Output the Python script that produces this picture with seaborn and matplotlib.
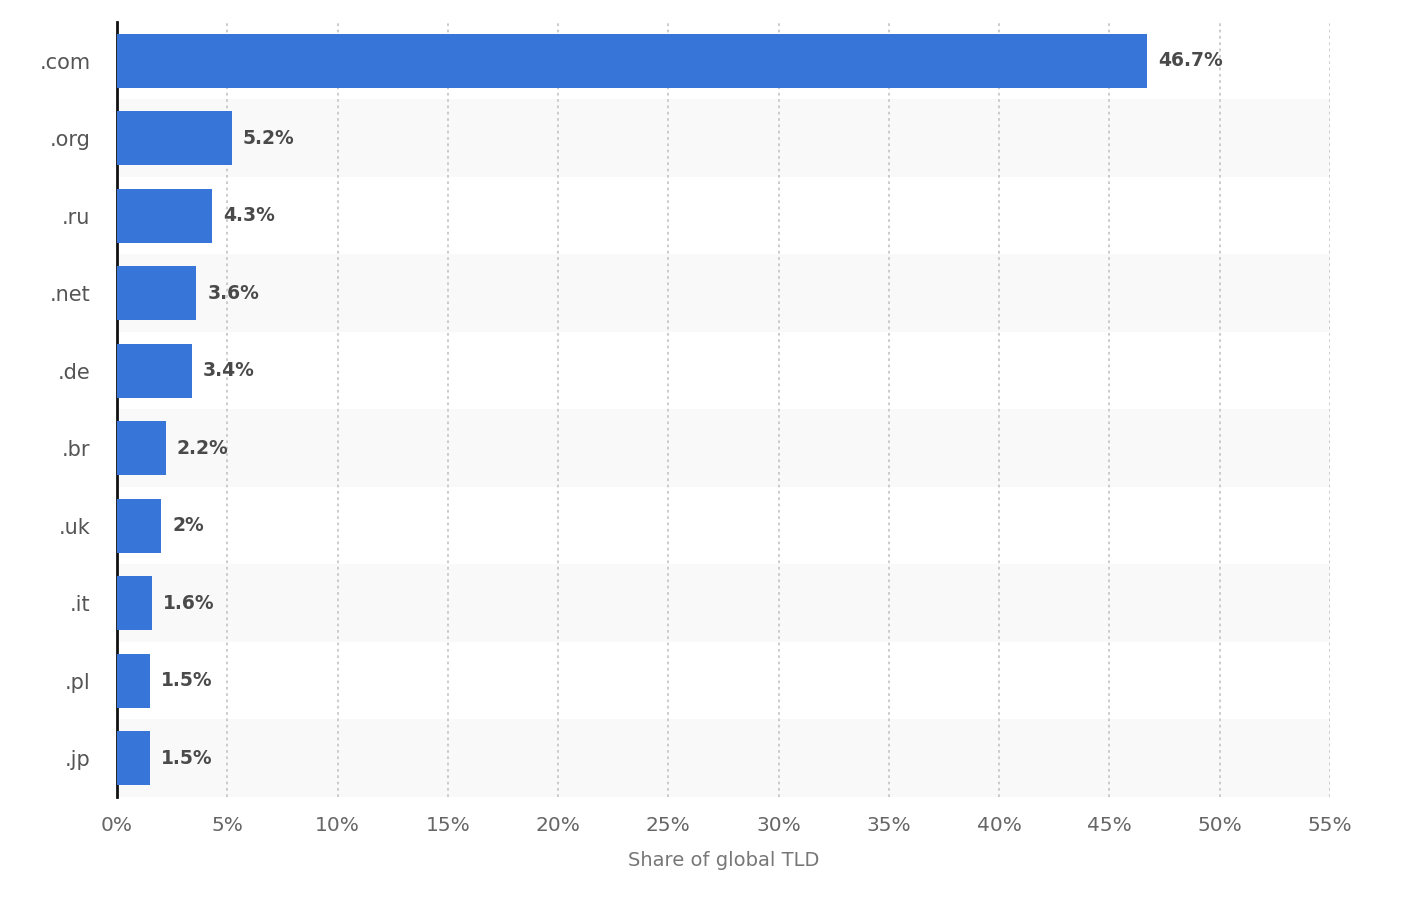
import matplotlib
matplotlib.use("Agg")
import matplotlib.pyplot as plt
import seaborn as sns
import pandas as pd

# === Data ===
tlds = [".com", ".org", ".ru", ".net", ".de", ".br", ".uk", ".it", ".pl", ".jp"]
shares = [46.7, 5.2, 4.3, 3.6, 3.4, 2.2, 2.0, 1.6, 1.5, 1.5]
share_labels = ["46.7%", "5.2%", "4.3%", "3.6%", "3.4%", "2.2%", "2%", "1.6%", "1.5%", "1.5%"]
xticks = [0, 5, 10, 15, 20, 25, 30, 35, 40, 45, 50, 55]

df = pd.DataFrame({"tld": tlds, "share": shares})

sns.set_style("white")
plt.rcParams["font.family"] = ["DejaVu Sans"]

fig = plt.figure(figsize=(14.08, 9.16), dpi=100)
ax = fig.add_axes([0.0831, 0.130, 0.8615, 0.846])

# alternating row shading
for i in range(len(tlds)):
    if i % 2 == 1:
        ax.axhspan(i - 0.5, i + 0.5, color="#f9f9f9", zorder=0, lw=0)

sns.barplot(data=df, x="share", y="tld", color="#3776d8", width=0.7,
            saturation=1, linewidth=0, edgecolor="none", ax=ax, zorder=3)

for i, (v, lab) in enumerate(zip(shares, share_labels)):
    ax.text(v + 0.5, i, lab, va="center", ha="left", fontsize=13.5,
            fontweight="bold", color="#4a4a4a", zorder=4)

ax.set_xlim(0, 55)
ax.set_ylim(len(tlds) - 0.5, -0.5)
ax.set_xticks(xticks)
ax.set_xticklabels([f"{t}%" for t in xticks])
ax.xaxis.grid(True, linestyle=(0, (1.5, 2)), color="#c8c8c8", linewidth=1.3, zorder=1)
ax.set_axisbelow(True)

for s in ["top", "right", "bottom"]:
    ax.spines[s].set_visible(False)
ax.spines["left"].set_color("#111111")
ax.spines["left"].set_linewidth(2)

ax.tick_params(axis="x", length=0, pad=14, labelsize=14.5, labelcolor="#666666")
ax.tick_params(axis="y", length=0, pad=19, labelsize=15, labelcolor="#555555")
ax.set_ylabel("")
ax.set_xlabel("Share of global TLD", fontsize=14, color="#777777", labelpad=11)

fig.savefig("out.png", dpi=100)
